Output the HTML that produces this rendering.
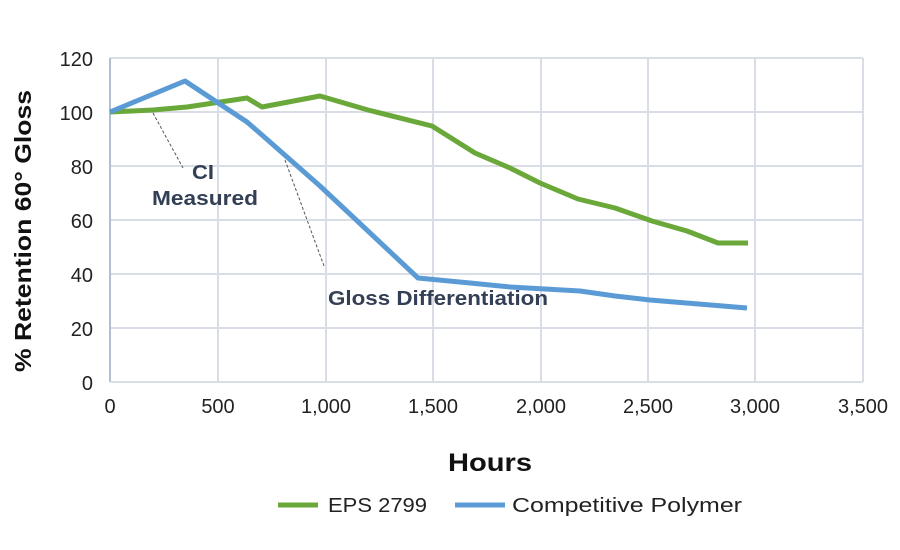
<!DOCTYPE html>
<html><head><meta charset="utf-8"><style>
body{margin:0;background:#fff}
svg{display:block;font-family:"Liberation Sans",sans-serif}
</style></head><body>
<svg width="900" height="550" viewBox="0 0 900 550">
<g stroke="#d9dde6" stroke-width="2">
<line x1="110" y1="58" x2="863" y2="58"/><line x1="110" y1="112" x2="863" y2="112"/>
<line x1="110" y1="166" x2="863" y2="166"/><line x1="110" y1="220" x2="863" y2="220"/>
<line x1="110" y1="274" x2="863" y2="274"/><line x1="110" y1="328" x2="863" y2="328"/>
<line x1="218" y1="58" x2="218" y2="382"/><line x1="326" y1="58" x2="326" y2="382"/>
<line x1="433" y1="58" x2="433" y2="382"/><line x1="541" y1="58" x2="541" y2="382"/>
<line x1="648" y1="58" x2="648" y2="382"/><line x1="755" y1="58" x2="755" y2="382"/>
<line x1="863" y1="58" x2="863" y2="382"/>
</g>
<line x1="110" y1="58" x2="110" y2="382" stroke="#b4bed2" stroke-width="2"/>
<line x1="110" y1="382" x2="863" y2="382" stroke="#d9dde6" stroke-width="2"/>
<g font-size="20" fill="#222" text-anchor="end">
<text x="93" y="66">120</text><text x="93" y="120">100</text><text x="93" y="174">80</text>
<text x="93" y="228">60</text><text x="93" y="282">40</text><text x="93" y="336">20</text><text x="93" y="390">0</text>
</g>
<g font-size="20" fill="#222" text-anchor="middle">
<text x="110" y="413">0</text><text x="218" y="413">500</text><text x="326" y="413">1,000</text>
<text x="433" y="413">1,500</text><text x="541" y="413">2,000</text><text x="648" y="413">2,500</text>
<text x="755" y="413">3,000</text><text x="863" y="413">3,500</text>
</g>
<text x="448" y="471" font-size="25" font-weight="bold" fill="#111" textLength="84" lengthAdjust="spacingAndGlyphs">Hours</text>
<text transform="translate(31,372) rotate(-90)" font-size="23" font-weight="bold" fill="#111" textLength="282" lengthAdjust="spacingAndGlyphs">% Retention 60° Gloss</text>
<g stroke="#555" stroke-width="1" stroke-dasharray="3,2">
<line x1="153" y1="113" x2="183" y2="168"/><line x1="285" y1="160" x2="324" y2="266"/>
</g>
<polyline fill="none" stroke="#6aa83a" stroke-width="5" stroke-linejoin="round" points="110,112 153,110 187,107 247,98 262,107 320,96 368,110 432,126 475,153 510,168 540,183 578,199 615,208 652,221 687,231 718,243 748,243"/>
<polyline fill="none" stroke="#5b9bd5" stroke-width="5" stroke-linejoin="round" points="110,112 185,81 247,122 262,135 320,186 418,278 470,283 510,287 580,291 615,296 650,300 747,308"/>
<g font-size="20" font-weight="bold" fill="#333f55">
<text x="192" y="179" textLength="22" lengthAdjust="spacingAndGlyphs">CI</text>
<text x="152" y="205" textLength="106" lengthAdjust="spacingAndGlyphs">Measured</text>
<text x="328" y="305" textLength="220" lengthAdjust="spacingAndGlyphs">Gloss Differentiation</text>
</g>
<line x1="278" y1="505" x2="318" y2="505" stroke="#6aa83a" stroke-width="5"/>
<text x="328" y="512" font-size="20" fill="#222" textLength="99" lengthAdjust="spacingAndGlyphs">EPS 2799</text>
<line x1="455" y1="505" x2="505" y2="505" stroke="#5b9bd5" stroke-width="5"/>
<text x="512" y="512" font-size="20" fill="#222" textLength="230" lengthAdjust="spacingAndGlyphs">Competitive Polymer</text>
</svg>
</body></html>
